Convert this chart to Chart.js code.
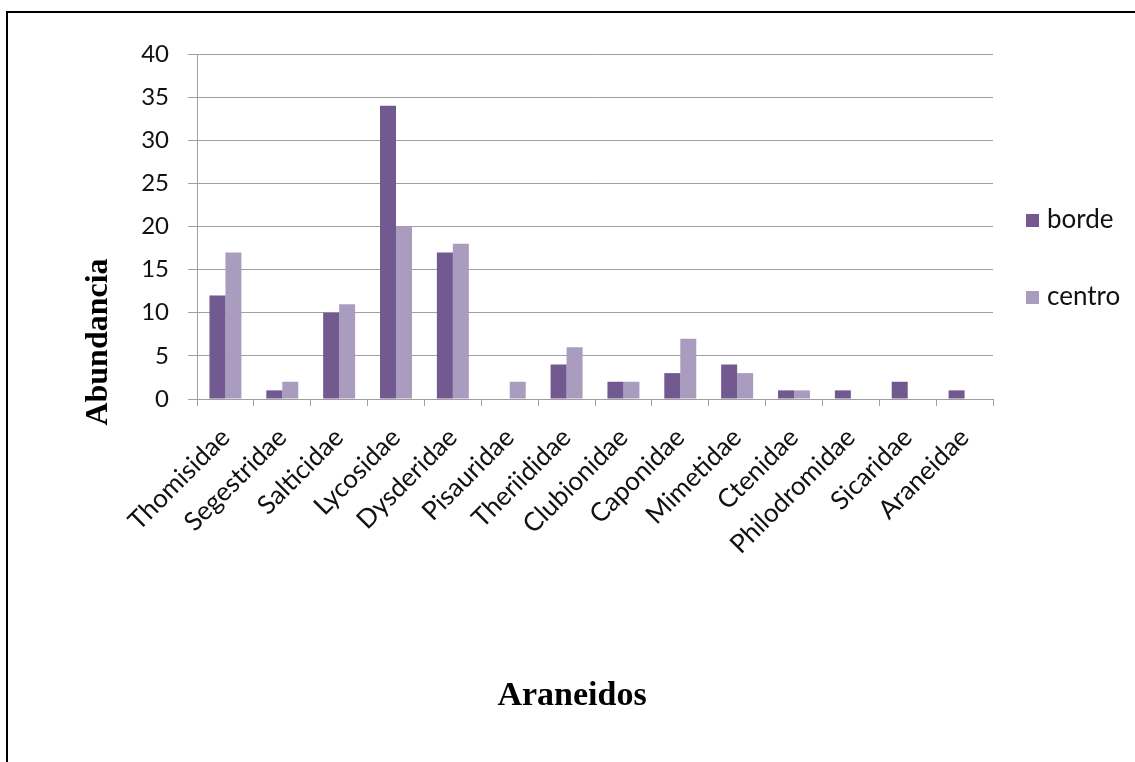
<!DOCTYPE html>
<html>
<head>
<meta charset="utf-8">
<script src="https://cdn.jsdelivr.net/npm/chart.js@4/dist/chart.umd.min.js"></script>
<style>
  body { margin: 0; background: #fff; }
  #wrap { position: relative; width: 1135px; height: 762px; }
</style>
</head>
<body>
<div id="wrap"><canvas id="araneidosChart"></canvas></div>
<script>
const families = ['Thomisidae', 'Segestridae', 'Salticidae', 'Lycosidae', 'Dysderidae', 'Pisauridae',
  'Theriididae', 'Clubionidae', 'Caponidae', 'Mimetidae', 'Ctenidae', 'Philodromidae', 'Sicaridae', 'Araneidae'];
const borde = [12, 1, 10, 34, 17, 0, 4, 2, 3, 4, 1, 1, 2, 1];
const centro = [17, 2, 11, 20, 18, 2, 6, 2, 7, 3, 1, 0, 0, 0];
const yTicks = [0, 5, 10, 15, 20, 25, 30, 35, 40];

const colorBorde = '#72598f';
const colorCentro = '#aa9cbf';
const gridColor = '#9f9f9f';

// frame, axis titles and the side legend
const decorations = {
  id: 'decorations',
  afterDraw(chart) {
    const ctx = chart.ctx;
    ctx.save();

    // outer frame (left and top only)
    ctx.strokeStyle = '#000';
    ctx.lineWidth = 2;
    ctx.beginPath();
    ctx.moveTo(7, 762);
    ctx.lineTo(7, 12);
    ctx.lineTo(1135, 12);
    ctx.stroke();

    // axis titles
    ctx.fillStyle = '#000';
    ctx.font = 'bold 34px "Liberation Serif", "Times New Roman", serif';
    ctx.textAlign = 'center';
    ctx.textBaseline = 'alphabetic';
    ctx.fillText('Araneidos', 572, 705);

    ctx.font = 'bold 32px "Liberation Serif", "Times New Roman", serif';
    ctx.save();
    ctx.translate(107, 342);
    ctx.rotate(-Math.PI / 2);
    ctx.fillText('Abundancia', 0, 0);
    ctx.restore();

    // legend
    ctx.font = '26px Lato, "Open Sans", sans-serif';
    ctx.textAlign = 'left';
    chart.data.datasets.forEach((ds, i) => {
      const y = 220 + i * 77;
      ctx.fillStyle = ds.backgroundColor;
      ctx.fillRect(1026, y - 6, 13, 13);
      ctx.fillStyle = '#111';
      ctx.textBaseline = 'middle';
      ctx.fillText(ds.label, 1047, y);
    });

    ctx.restore();
  }
};

const data = {
  labels: families,
  datasets: [
    {
      label: 'borde',
      data: borde,
      backgroundColor: colorBorde,
      categoryPercentage: 0.5625,
      barPercentage: 1
    },
    {
      label: 'centro',
      data: centro,
      backgroundColor: colorCentro,
      categoryPercentage: 0.5625,
      barPercentage: 1
    }
  ]
};

const config = {
  type: 'bar',
  data: data,
  options: {
    responsive: true,
    maintainAspectRatio: false,
    animation: false,
    layout: {
      padding: { left: 0, top: 54, right: 142, bottom: 163 }
    },
    plugins: {
      legend: { display: false },
      tooltip: { enabled: false }
    },
    scales: {
      x: {
        grid: {
          display: true,
          offset: true,
          drawOnChartArea: false,
          drawTicks: true,
          tickLength: 7,
          color: gridColor
        },
        border: { color: gridColor, width: 1 },
        ticks: {
          autoSkip: false,
          maxRotation: 45,
          minRotation: 45,
          padding: 16,
          color: '#111',
          font: { family: 'Lato, "Open Sans", sans-serif', size: 26 }
        },
        afterFit(scale) { scale.height = 200; }
      },
      y: {
        min: 0,
        max: 40,
        afterBuildTicks(scale) {
          scale.ticks = yTicks.map(v => ({ value: v }));
        },
        grid: {
          color: gridColor,
          lineWidth: 1,
          tickLength: 9
        },
        border: { color: gridColor, width: 1 },
        ticks: {
          padding: 19,
          color: '#111',
          font: { family: 'Lato, "Open Sans", sans-serif', size: 24 }
        },
        afterFit(scale) { scale.width = 197; }
      }
    }
  },
  plugins: [decorations]
};

const araneidosChart = new Chart(document.getElementById('araneidosChart'), config);
</script>
</body>
</html>
